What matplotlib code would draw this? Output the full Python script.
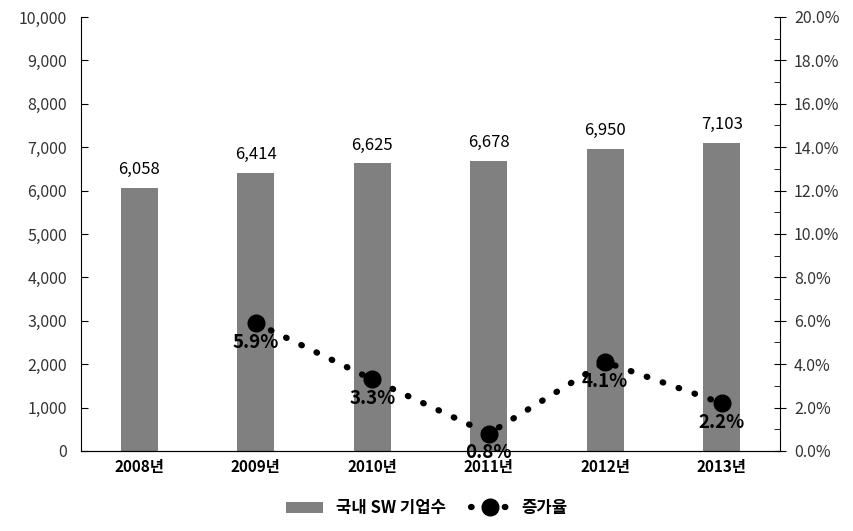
import numpy as np
import matplotlib.pyplot as plt
from matplotlib.ticker import FuncFormatter, MultipleLocator

plt.rcParams['font.family'] = ['Noto Sans CJK KR', 'DejaVu Sans']

years = ['2008년', '2009년', '2010년', '2011년', '2012년', '2013년']
companies = [6058, 6414, 6625, 6678, 6950, 7103]
growth = [np.nan, 5.9, 3.3, 0.8, 4.1, 2.2]

fig = plt.figure(figsize=(8.54, 5.31), dpi=100)
ax = fig.add_axes([0.0948, 0.1507, 0.8185, 0.8173])
x = np.arange(len(years))

bars = ax.bar(x, companies, width=0.32, color='#808080', label='국내 SW 기업수', zorder=2)
for xi, v in zip(x, companies):
    ax.text(xi, v + 230, f'{v:,}', ha='center', va='bottom', fontsize=12)

ax.set_xlim(-0.5, len(years) - 0.5)
ax.set_ylim(0, 10000)
ax.yaxis.set_major_locator(MultipleLocator(1000))
ax.yaxis.set_major_formatter(FuncFormatter(lambda v, p: f'{int(v):,}'))
ax.set_xticks(x)
ax.set_xticklabels(years, fontweight='bold', fontsize=11)
ax.tick_params(axis='x', length=0, pad=6)
ax.tick_params(axis='y', direction='in', length=5, labelsize=11.5, pad=10,
               colors='black', labelcolor='#333333')
ax.spines['top'].set_visible(False)
ax.spines['right'].set_visible(False)

ax2 = ax.twinx()
line, = ax2.plot(x, growth, linestyle=(0, (0.1, 2.6)), dash_capstyle='round', linewidth=4.5,
                 color='black', marker='o', markersize=12, label='증가율', zorder=3)
for xi, g in zip(x, growth):
    if np.isnan(g):
        continue
    ax2.text(xi, g - 0.45, f'{g}%', ha='center', va='top', fontsize=13.5, fontweight='bold')

ax2.set_ylim(0, 20)
ax2.yaxis.set_major_locator(MultipleLocator(2))
ax2.yaxis.set_minor_locator(MultipleLocator(1))
ax2.yaxis.set_major_formatter(FuncFormatter(lambda v, p: f'{v:.1f}%'))
ax2.tick_params(axis='y', which='major', direction='inout', length=8, labelsize=11.5,
                labelcolor='#333333', pad=6)
ax2.tick_params(axis='y', which='minor', direction='in', length=4)
ax2.spines['top'].set_visible(False)
ax2.spines['left'].set_visible(False)

fig.legend([bars, line], ['국내 SW 기업수', '증가율'], loc='center', bbox_to_anchor=(0.5, 0.043),
           ncol=2, frameon=False, prop={'weight': 'bold', 'size': 12}, handlelength=2.2,
           columnspacing=1.5)

fig.savefig('out.png', dpi=100)
